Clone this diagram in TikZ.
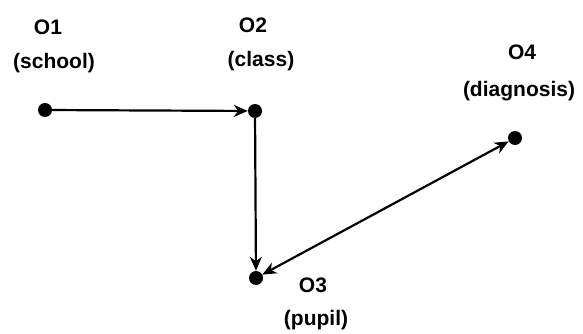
\documentclass[tikz,border=0pt]{standalone}
\usepackage{fontspec}
\setmainfont{Liberation Sans}
\usetikzlibrary{arrows.meta}
\begin{document}
\begin{tikzpicture}[x=1pt,y=-1pt,
  dot/.style={circle,fill=black,inner sep=0pt,minimum size=14pt},
  lbl/.style={font=\fontsize{21}{25}\selectfont\bfseries,inner sep=0pt},
  tip/.style={Stealth[length=14pt,width=12pt,inset=4.5pt]},
  link/.style={line width=2.2pt,-{Stealth[length=14pt,width=12pt,inset=4.5pt]}},
  blink/.style={line width=2.2pt,{Stealth[length=14pt,width=12pt,inset=4.5pt]}-{Stealth[length=14pt,width=12pt,inset=4.5pt]}}]
\useasboundingbox (0,0) rectangle (583,334);
% the four objects
\node[dot] (o1) at (45,110) {};
\node[dot] (o2) at (255,111) {};
\node[dot] (o3) at (256,278) {};
\node[dot] (o4) at (515,138) {};
% their labels
\node[lbl] (t1) at (48,27) {O1};
\node[lbl] (s1) at (54,63) {(school)};
\node[lbl] (t2) at (253,25) {O2};
\node[lbl] (s2) at (261,61) {(class)};
\node[lbl] (t3) at (313,285) {O3};
\node[lbl] (s3) at (316,320) {(pupil)};
\node[lbl] (t4) at (522,52) {O4};
\node[lbl] (s4) at (519,91) {(diagnosis)};
% relations
\draw[link] (o1) -- (o2);
\draw[link] (o2) -- (o3);
\draw[blink] (o3) -- (o4);
\end{tikzpicture}
\end{document}
